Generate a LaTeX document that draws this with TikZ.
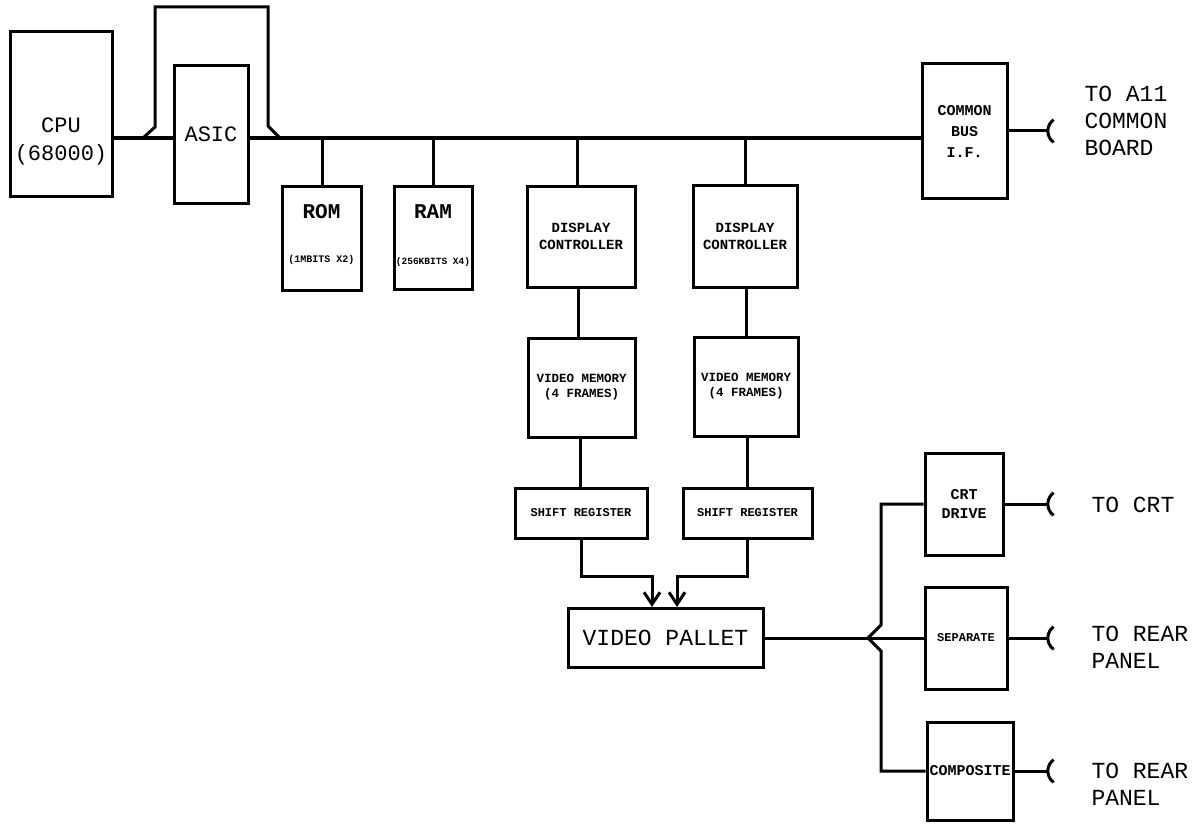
\documentclass[tikz,border=0pt]{standalone}
\usepackage{fontspec}
\setmainfont{Liberation Mono}
\usetikzlibrary{arrows.meta}

\tikzset{
  blk/.style={draw, line width=3pt, inner sep=0pt, align=center},
  wire/.style={line width=3pt},
  big/.style={font=\fontsize{22}{28}\selectfont, align=center},
  small/.style={font=\bfseries\fontsize{14}{17}\selectfont},
  tiny/.style={font=\bfseries\fontsize{12}{15}\selectfont},
  plug/.pic={\draw[line width=3pt] (5.6,11.4) arc[start angle=126, end angle=234, radius=14];}
}

\begin{document}
\begin{tikzpicture}[x=1pt,y=-1pt]
\useasboundingbox (0,0) rectangle (1204,824);
% --- Blocks on the bus ---
\node[blk, minimum width=102, minimum height=164] (cpu) at (61,114) {};
\node[big] (cputxt) at (61,141) {CPU\\(68000)};
\node[blk, big, minimum width=74, minimum height=137] (asic) at (211,134.5) {ASIC};

\node[blk, minimum width=79, minimum height=104] (rom) at (321.5,238) {};
\node[font=\bfseries\fontsize{21}{24}\selectfont] (romtxt) at (321.5,212) {ROM};
\node[font=\bfseries\fontsize{10}{12}\selectfont] (romsub) at (321.5,260) {(1MBITS X2)};

\node[blk, minimum width=78, minimum height=103] (ram) at (433,237.5) {};
\node[font=\bfseries\fontsize{21}{24}\selectfont] (ramtxt) at (433,212) {RAM};
\node[font=\bfseries\fontsize{9.5}{12}\selectfont] (ramsub) at (433,262) {(256KBITS X4)};

\node[blk, small, minimum width=108, minimum height=101] (dcA) at (581,236.5) {DISPLAY\\CONTROLLER};
\node[blk, small, minimum width=104, minimum height=102] (dcB) at (745,236) {DISPLAY\\CONTROLLER};

\node[blk, font=\bfseries\fontsize{12.5}{15}\selectfont, minimum width=107, minimum height=99] (vmA) at (581.5,387.5) {VIDEO MEMORY\\(4 FRAMES)};
\node[blk, font=\bfseries\fontsize{12.5}{15}\selectfont, minimum width=104, minimum height=99] (vmB) at (746,386.5) {VIDEO MEMORY\\(4 FRAMES)};

\node[blk, tiny, minimum width=132, minimum height=50] (srA) at (581,513) {SHIFT REGISTER};
\node[blk, tiny, minimum width=129, minimum height=50] (srB) at (747.5,513) {SHIFT REGISTER};

\node[blk, font=\fontsize{23}{28}\selectfont, minimum width=195, minimum height=59] (vp) at (665.5,638) {VIDEO PALLET};

\node[blk, font=\bfseries\fontsize{15}{21}\selectfont, minimum width=85, minimum height=134] (cbif) at (964.5,131) {COMMON\\BUS\\I.F.};

% --- Output stages ---
\node[blk, font=\bfseries\fontsize{15}{19}\selectfont, minimum width=78, minimum height=102] (crt) at (964,504) {CRT\\DRIVE};
\node[blk, tiny, minimum width=82, minimum height=102] (sep) at (966,638) {SEPARATE};
\node[blk, font=\bfseries\fontsize{15}{18}\selectfont, minimum width=86, minimum height=98] (comp) at (970,771) {COMPOSITE};

\node[big, align=left, anchor=west, font=\fontsize{23}{27}\selectfont] (toA) at (1081,121) {TO A11\\COMMON\\BOARD};
\node[big, anchor=west, font=\fontsize{23}{27}\selectfont] (toCrt) at (1088,505) {TO CRT};
\node[big, align=left, anchor=west, font=\fontsize{23}{27}\selectfont] (toRearA) at (1088,647) {TO REAR\\PANEL};
\node[big, align=left, anchor=west, font=\fontsize{23}{27}\selectfont] (toRearB) at (1088,784) {TO REAR\\PANEL};

% --- Common bus ---
\coordinate (bus) at (0,138);
\draw[wire] (cpu.east |- bus) -- (asic.west |- bus);
\draw[wire] (asic.east |- bus) -- (cbif.west |- bus);
\draw[wire] (143,138) -- (155,127) -- (155,7) -- (268,7) -- (268,126) -- (280,138);

\foreach \n/\x in {rom/322,ram/433,dcA/577,dcB/745}
  \draw[wire] (\x,138) -- (\n.north -| \x,0);

% --- Video paths ---
\draw[wire] (dcA.south -| 578,0) -- (vmA.north -| 578,0);
\draw[wire] (dcB.south -| 746,0) -- (vmB.north -| 746,0);
\draw[wire] (vmA.south -| 580,0) -- (srA.north -| 580,0);
\draw[wire] (vmB.south -| 747,0) -- (srB.north -| 747,0);

\draw[wire, -{Straight Barb[length=12pt, width=16pt, line width=3pt]}] (srA.south) -- ++(0,37) -| (vp.north -| 652,0);
\draw[wire, -{Straight Barb[length=12pt, width=16pt, line width=3pt]}] (srB.south) -- ++(0,37) -| (vp.north -| 677,0);

% --- Fork to outputs ---
\coordinate (fork) at (868,638);
\draw[wire] (vp.east) -- (fork) -- (sep.west);
\draw[wire] (fork) -- (881,625) -- (881,0 |- crt.west) -- (crt.west);
\draw[wire] (fork) -- (881,651) -- (881,0 |- comp.west) -- (comp.west);

% --- Connectors ---
\foreach \n/\y in {cbif/131,crt/504,sep/638,comp/771} {
  \coordinate (\n-plug) at (1048,\y);
  \draw[wire] (\n.east |- \n-plug) -- (\n-plug);
  \pic at (\n-plug) {plug};
}
\end{tikzpicture}
\end{document}
